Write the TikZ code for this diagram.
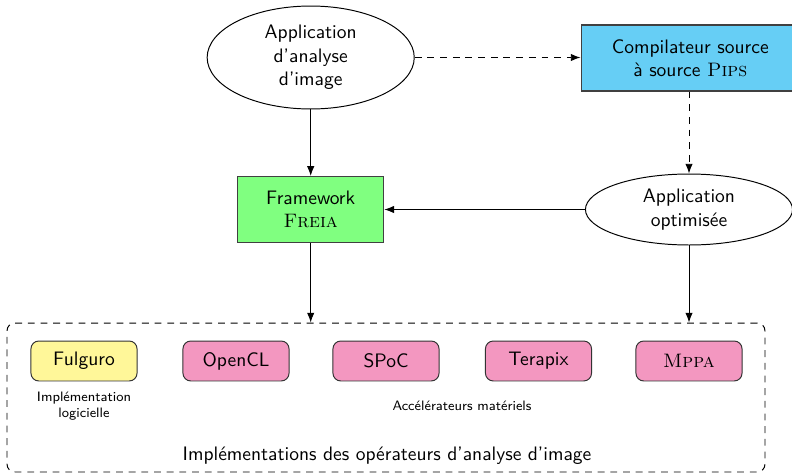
\documentclass[tikz,border=0pt]{standalone}
\usetikzlibrary{shapes.geometric,arrows.meta}
\renewcommand\familydefault{\sfdefault}
\definecolor{cblue}{RGB}{102,206,245}
\definecolor{cgreen}{RGB}{128,255,128}
\definecolor{cyellow}{RGB}{255,247,153}
\definecolor{cpink}{RGB}{243,151,192}
\begin{document}
\begin{tikzpicture}[x=0.5128pt,y=-0.5128pt,
  ell/.style={draw,ellipse,inner sep=0pt,minimum width=106.2pt,align=center,line width=0.5pt},
  bigbox/.style={draw=black!75,rectangle,inner sep=0pt,minimum height=33.8pt,align=center,line width=0.6pt},
  impbox/.style={draw=black!80,rounded corners=4pt,inner sep=0pt,minimum width=54.4pt,minimum height=20.5pt,line width=0.5pt},
  arr/.style={-{Latex[length=5pt,width=3.8pt]},line width=0.5pt},
  dasharr/.style={-{Latex[length=5pt,width=3.8pt]},line width=0.5pt,dash pattern=on 3.5pt off 3pt}]
\useasboundingbox (0,0) rectangle (792,474);
\node[ell,minimum height=52.8pt] (app) at (310.7,57.5) {Application\\d'analyse\\d'image};
\node[bigbox,fill=cblue,minimum width=112pt] (pips) at (690.3,58) {Compilateur source\\à source \textrm{\textsc{Pips}}};
\node[bigbox,fill=cgreen,minimum width=74.9pt] (freia) at (310.7,209.5) {Framework\\\textrm{\textsc{Freia}}};
\node[ell,minimum height=36.4pt] (opt) at (689,209.5) {Application\\optimisée};
\coordinate (pipsdown) at (689,91);
\node[draw,line width=0.5pt,dash pattern=on 3.5pt off 3pt,rounded corners=4pt,inner sep=0pt,minimum width=388.7pt,minimum height=76.4pt] (impl) at (386,397.5) {};
\node[impbox,fill=cyellow] (fulguro) at (84,361) {Fulguro};
\node[impbox,fill=cpink] (opencl) at (236,361) {OpenCL};
\node[impbox,fill=cpink] (spoc) at (386,361) {SPoC};
\node[impbox,fill=cpink] (terapix) at (538.5,361) {Terapix};
\node[impbox,fill=cpink] (mppa) at (689,361) {\textrm{\textsc{Mppa}}};
\node[font=\scriptsize,align=center] (logi) at (84,406) {Implémentation\\logicielle};
\node[font=\scriptsize] (accel) at (462,406) {Accélérateurs matériels};
\node (impltxt) at (387,456) {Implémentations des opérateurs d'analyse d'image};
\draw[dasharr] (app.east) -- (pips.west |- app.east);
\draw[dasharr] (opt.north |- pips.south) -- (opt.north);
\draw[arr] (app.south) -- (freia.north);
\draw[arr] (opt.west) -- (freia.east);
\draw[arr] (freia.south) -- (freia.south |- impl.north);
\draw[arr] (opt.south) -- (opt.south |- impl.north);
\end{tikzpicture}
\end{document}
